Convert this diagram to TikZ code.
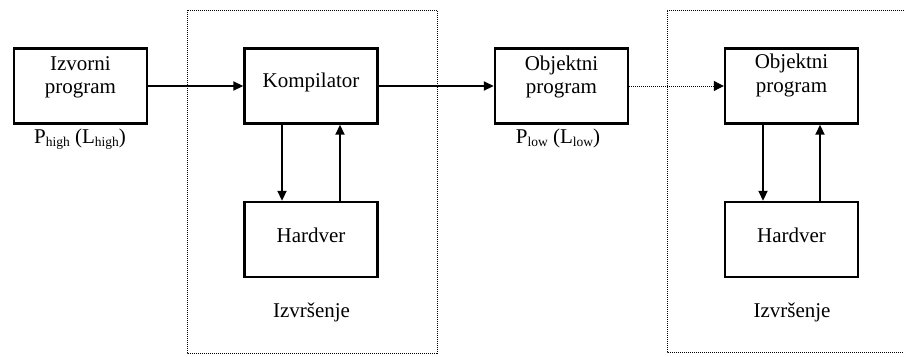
\documentclass[tikz,border=0pt]{standalone}
\usepackage{fontspec}
\setmainfont{Liberation Serif}
\usetikzlibrary{arrows.meta}
\newcommand\lowsub[1]{\raisebox{-3pt}{\fontsize{13.5}{14}\selectfont #1}}
\tikzset{
  blk/.style={draw, line width=2.4pt, minimum width=133pt, minimum height=75pt, inner sep=0pt},
  txt/.style={anchor=base, inner sep=0pt, font=\fontsize{21}{23}\selectfont},
  conn/.style={line width=1.8pt, -{Triangle[length=10pt,width=9pt]}},
  dotconn/.style={line width=1pt, dash pattern=on 1pt off 1pt, -{Triangle[length=10pt,width=10pt]}},
  frame/.style={line width=0.9pt, dash pattern=on 1pt off 1pt},
}
\begin{document}
\begin{tikzpicture}[x=1pt, y=-1pt]
  \useasboundingbox (0,0) rectangle (904,356);

  % execution environments
  \draw[frame] (187,10) rectangle (437,353);
  \draw[frame] (904,10) -- (667,10) -- (667,352) -- (904,352);

  % boxes
  \node[blk] (izv)  at (80.5,86) {};
  \node[blk] (komp) at (311,86) {};
  \node[blk] (obj)  at (561.5,86) {};
  \node[blk] (obj2) at (791.5,86) {};
  \node[blk] (hw1)  at (311,239.5) {};
  \node[blk] (hw2)  at (791.5,239.5) {};

  % box texts
  \node[txt] (izvA) at (80.5,70) {Izvorni};
  \node[txt] (izvB) at (80.5,93) {program};
  \node[txt] (kompT) at (311,87) {Kompilator};
  \node[txt] (objA) at (561.5,70) {Objektni};
  \node[txt] (objB) at (561.5,93) {program};
  \node[txt] (obj2A) at (791.5,68) {Objektni};
  \node[txt] (obj2B) at (791.5,92) {program};
  \node[txt] (hw1T) at (311,242) {Hardver};
  \node[txt] (hw2T) at (791.5,242) {Hardver};

  % labels
  \node[txt] (phigh) at (80,143) {P\lowsub{high} (L\lowsub{high})};
  \node[txt] (plow) at (558,143) {P\lowsub{low} (L\lowsub{low})};
  \node[txt] (exec1) at (311.5,317) {Izvršenje};
  \node[txt] (exec2) at (792,317) {Izvršenje};

  % connectors
  \draw[conn] (izv.east) -- (komp.west);
  \draw[conn] (komp.east) -- (obj.west);
  \draw[dotconn] (obj.east) -- (obj2.west);
  \draw[conn] ([xshift=-29pt]komp.south) -- ([xshift=-29pt]hw1.north);
  \draw[conn] ([xshift=29pt]hw1.north) -- ([xshift=29pt]komp.south);
  \draw[conn] ([xshift=-28.5pt]obj2.south) -- ([xshift=-28.5pt]hw2.north);
  \draw[conn] ([xshift=28.5pt]hw2.north) -- ([xshift=28.5pt]obj2.south);
\end{tikzpicture}
\end{document}
